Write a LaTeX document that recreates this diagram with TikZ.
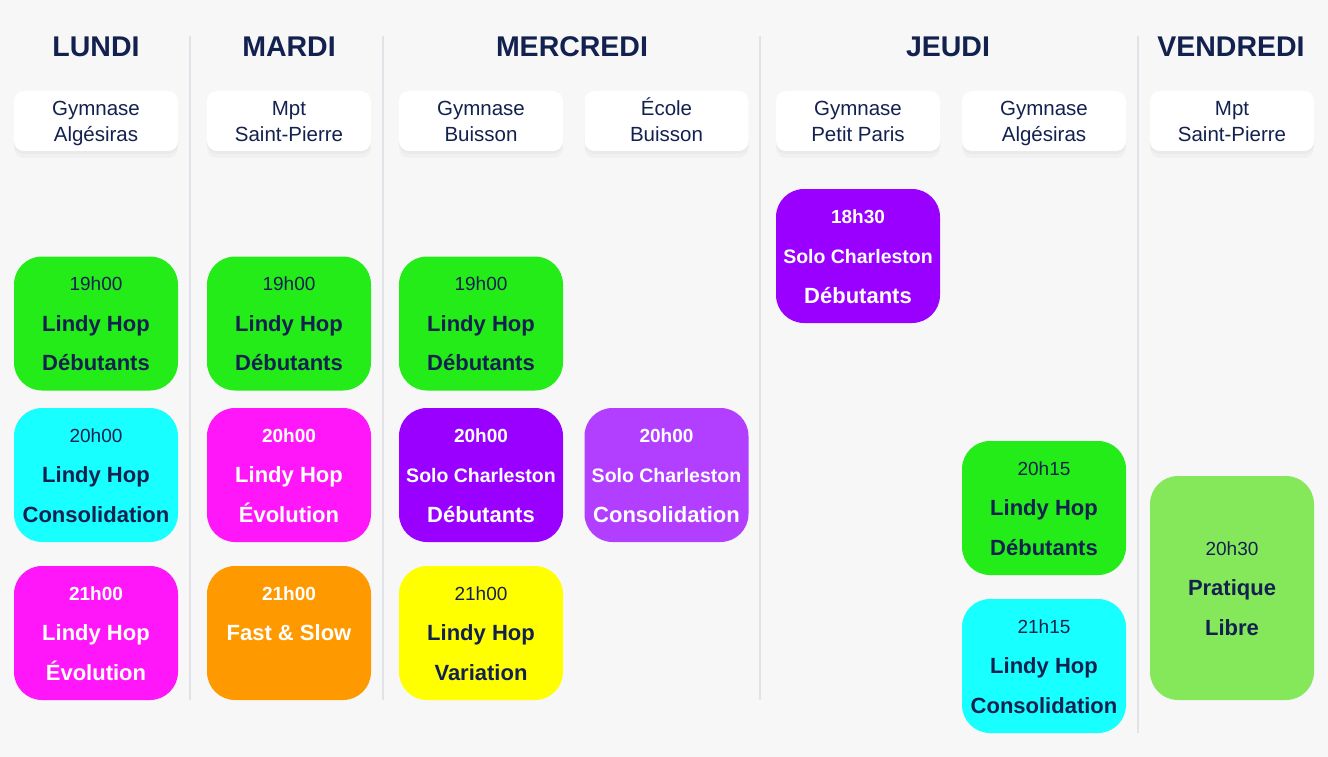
\documentclass[tikz,border=0pt]{standalone}
\usepackage{fontspec}
\setmainfont{Liberation Sans}
\usetikzlibrary{shadows}

\definecolor{fond}{HTML}{F7F7F8}
\definecolor{marine}{HTML}{13214F}
\definecolor{trait}{HTML}{E2E3E8}
\definecolor{vert}{HTML}{24EC18}
\definecolor{cyan}{HTML}{18FFFF}
\definecolor{magenta}{HTML}{FF17FA}
\definecolor{violet}{HTML}{9900FF}
\definecolor{lilas}{HTML}{B23FFF}
\definecolor{orange}{HTML}{FF9900}
\definecolor{jaune}{HTML}{FFFF00}
\definecolor{pomme}{HTML}{85E85A}

% un cours : nom, position, options de la boite, clair/sombre, heure, ligne 2, ligne 3
\newcommand\cours[7]{%
  \node[cours, #3] (#1) at (#2) {};
  \node[heure-#4] (#1-h) at ([yshift=39.5pt]#1.center) {#5};
  \node[titre-#4] (#1-a) at (#1.center) {#6};
  \node[titre-#4] (#1-b) at ([yshift=-39.5pt]#1.center) {#7};
}
\newcommand\solo{\fontsize{19.5}{20}\selectfont Solo Charleston}

\begin{document}
\begin{tikzpicture}[x=1pt, y=-1pt,
    jour/.style={text=marine, font=\fontsize{28.5}{30}\selectfont\bfseries, inner sep=0, text height=20.5pt, text depth=0pt},
    lieu/.style={fill=white, rounded corners=10, minimum width=164, minimum height=60, inner sep=0,
      align=center, text=marine, font=\fontsize{20.5}{26}\selectfont, text height=41pt, text depth=0pt,
      drop shadow={opacity=.05, shadow xshift=0pt, shadow yshift=-3pt},
      drop shadow={opacity=.05, shadow xshift=0pt, shadow yshift=-7pt}},
    cours/.style={rounded corners=28, minimum width=164, minimum height=134, inner sep=0},
    ligne/.style={inner sep=0, text depth=0pt},
    heure-clair/.style={ligne, text height=13.7pt, text=marine, font=\fontsize{19}{20}\selectfont},
    heure-sombre/.style={ligne, text height=13.7pt, text=white, font=\fontsize{19}{20}\selectfont\bfseries},
    titre-clair/.style={ligne, text height=15.8pt, text=marine, font=\fontsize{22}{24}\selectfont\bfseries},
    titre-sombre/.style={ligne, text height=15.8pt, text=white, font=\fontsize{22}{24}\selectfont\bfseries}]

  \fill[fond] (0,0) rectangle (1328,757);

  % separations
  \foreach \x/\bas in {190/700, 383/700, 760/700, 1138/733}
    \draw[trait, line width=2] (\x,36) -- (\x,\bas);

  % jours
  \foreach \x/\j in {96/LUNDI, 289/MARDI, 572/MERCREDI, 948/JEUDI, 1231/VENDREDI}
    \node[jour] (\j) at (\x,46) {\j};

  % lieux
  \node[lieu] (lu-lieu) at (96,121) {Gymnase\\Algésiras};
  \node[lieu] (ma-lieu) at (289,121) {Mpt\\Saint-Pierre};
  \node[lieu] (me-lieu1) at (481,121) {Gymnase\\Buisson};
  \node[lieu] (me-lieu2) at (666.5,121) {École\\Buisson};
  \node[lieu] (je-lieu1) at (858,121) {Gymnase\\Petit Paris};
  \node[lieu] (je-lieu2) at (1044,121) {Gymnase\\Algésiras};
  \node[lieu] (ve-lieu) at (1232,121) {Mpt\\Saint-Pierre};

  % lundi
  \cours{lu1}{96,323.5}{fill=vert}{clair}{19h00}{Lindy Hop}{Débutants}
  \cours{lu2}{96,475}{fill=cyan}{clair}{20h00}{Lindy Hop}{Consolidation}
  \cours{lu3}{96,633}{fill=magenta}{sombre}{21h00}{Lindy Hop}{Évolution}
  % mardi
  \cours{ma1}{289,323.5}{fill=vert}{clair}{19h00}{Lindy Hop}{Débutants}
  \cours{ma2}{289,475}{fill=magenta}{sombre}{20h00}{Lindy Hop}{Évolution}
  \cours{ma3}{289,633}{fill=orange}{sombre}{21h00}{Fast \& Slow}{}
  % mercredi
  \cours{me1}{481,323.5}{fill=vert}{clair}{19h00}{Lindy Hop}{Débutants}
  \cours{me2}{481,475}{fill=violet}{sombre}{20h00}{\solo}{Débutants}
  \cours{me3}{481,633}{fill=jaune}{clair}{21h00}{Lindy Hop}{Variation}
  \cours{me4}{666.5,475}{fill=lilas}{sombre}{20h00}{\solo}{Consolidation}
  % jeudi
  \cours{je1}{858,256}{fill=violet}{sombre}{18h30}{\solo}{Débutants}
  \cours{je2}{1044,508}{fill=vert}{clair}{20h15}{Lindy Hop}{Débutants}
  \cours{je3}{1044,666}{fill=cyan}{clair}{21h15}{Lindy Hop}{Consolidation}
  % vendredi
  \cours{ve1}{1232,588}{fill=pomme, minimum height=224}{clair}{20h30}{Pratique}{Libre}
\end{tikzpicture}
\end{document}
